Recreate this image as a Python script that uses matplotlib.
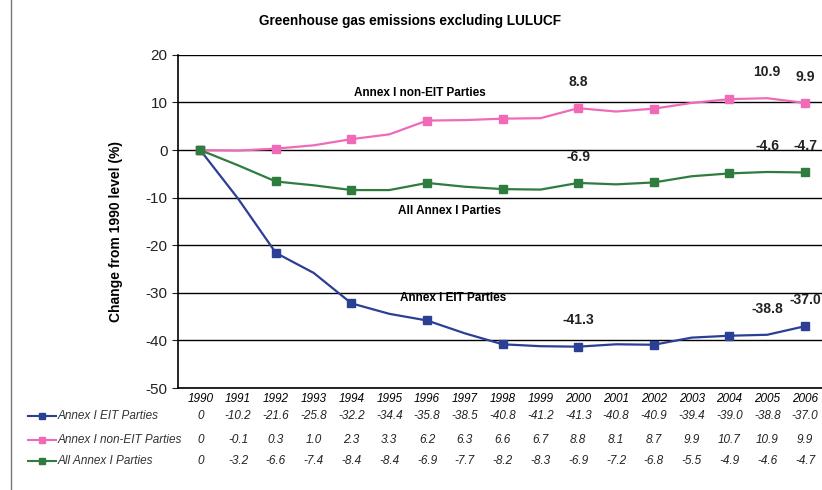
import matplotlib.pyplot as plt
from matplotlib.lines import Line2D

plt.rcParams['font.family'] = ['Liberation Sans', 'DejaVu Sans']
plt.rcParams['axes.unicode_minus'] = False

years = list(range(1990, 2007))
eit = [0, -10.2, -21.6, -25.8, -32.2, -34.4, -35.8, -38.5, -40.8, -41.2, -41.3,
       -40.8, -40.9, -39.4, -39.0, -38.8, -37.0]
non_eit = [0, -0.1, 0.3, 1.0, 2.3, 3.3, 6.2, 6.3, 6.6, 6.7, 8.8,
           8.1, 8.7, 9.9, 10.7, 10.9, 9.9]
all_annex = [0, -3.2, -6.6, -7.4, -8.4, -8.4, -6.9, -7.7, -8.2, -8.3, -6.9,
             -7.2, -6.8, -5.5, -4.9, -4.6, -4.7]

series_names = ['Annex I EIT Parties', 'Annex I non-EIT Parties', 'All Annex I Parties']
series_values = [eit, non_eit, all_annex]
colors = ['#2b3f94', '#f06ab8', '#2f7d3e']
label_years = [2000, 2005, 2006]

fig = plt.figure(figsize=(8.22, 4.9), dpi=100)
ax = fig.add_axes([0.2165, 0.208, 0.79, 0.68])

for vals, col in zip(series_values, colors):
    ax.plot(years, vals, color=col, lw=1.6, marker='s', markersize=5.5,
            markevery=2, zorder=3)

ax.set_xlim(1989.41, 2006.59)
ax.set_ylim(-50, 20)
ax.set_yticks(range(-50, 21, 10))
ax.yaxis.grid(True, color='black', lw=1.0)
ax.set_axisbelow(True)
ax.set_xticks([])
for s in ['top', 'right']:
    ax.spines[s].set_visible(False)
ax.spines['left'].set_linewidth(1.2)
ax.spines['bottom'].set_linewidth(1.2)
ax.tick_params(axis='y', labelsize=11, length=4, colors='#222222')
ax.set_ylabel('Change from 1990 level (%)', fontsize=10, fontweight='bold')
ax.yaxis.set_label_coords(-0.085, 0.47)

fig.text(0.499, 0.957, 'Greenhouse gas emissions excluding LULUCF', ha='center',
         va='center', fontsize=9.8, fontweight='bold')

# series names inside the plot
ax.text(1995.8, 12.0, 'Annex I non-EIT Parties', fontsize=8.5, fontweight='bold',
        ha='center', va='center')
ax.text(1996.6, -12.8, 'All Annex I Parties', fontsize=8.5, fontweight='bold',
        ha='center', va='center')
ax.text(1996.7, -31.1, 'Annex I EIT Parties', fontsize=8.5, fontweight='bold',
        ha='center', va='center')

# value labels
for vals in series_values:
    for yr in label_years:
        v = vals[years.index(yr)]
        ax.text(yr, v + 5.5, '%.1f' % v, fontsize=10, fontweight='bold', ha='center',
                va='center', color='#222222')

# data table below the chart
for yr in years:
    ax.text(yr, -52.2, str(yr), ha='center', va='center', fontsize=8.5, style='italic',
            clip_on=False)
row_y = [-55.8, -61.0, -65.4]
for vals, col, name, ry in zip(series_values, colors, series_names, row_y):
    for yr, v in zip(years, vals):
        txt = '0' if v == 0 else '%.1f' % v
        ax.text(yr, ry, txt, ha='center', va='center', fontsize=8.5, style='italic',
                color='#222222', clip_on=False)
    fy = ax.transData.transform((0, ry))[1] / fig.bbox.height
    fig.add_artist(Line2D([0.034, 0.068], [fy, fy], color=col, lw=1.5,
                          transform=fig.transFigure))
    fig.add_artist(Line2D([0.051], [fy], color=col, marker='s', markersize=4.5,
                          transform=fig.transFigure))
    fig.text(0.07, fy, name, ha='left', va='center', fontsize=8.5, style='italic',
             color='#333333')

# scan border on the left
fig.add_artist(Line2D([0.013, 0.013], [0.0, 1.0], color='#777777', lw=1.0,
                      transform=fig.transFigure))

fig.savefig('out.png', dpi=100)
